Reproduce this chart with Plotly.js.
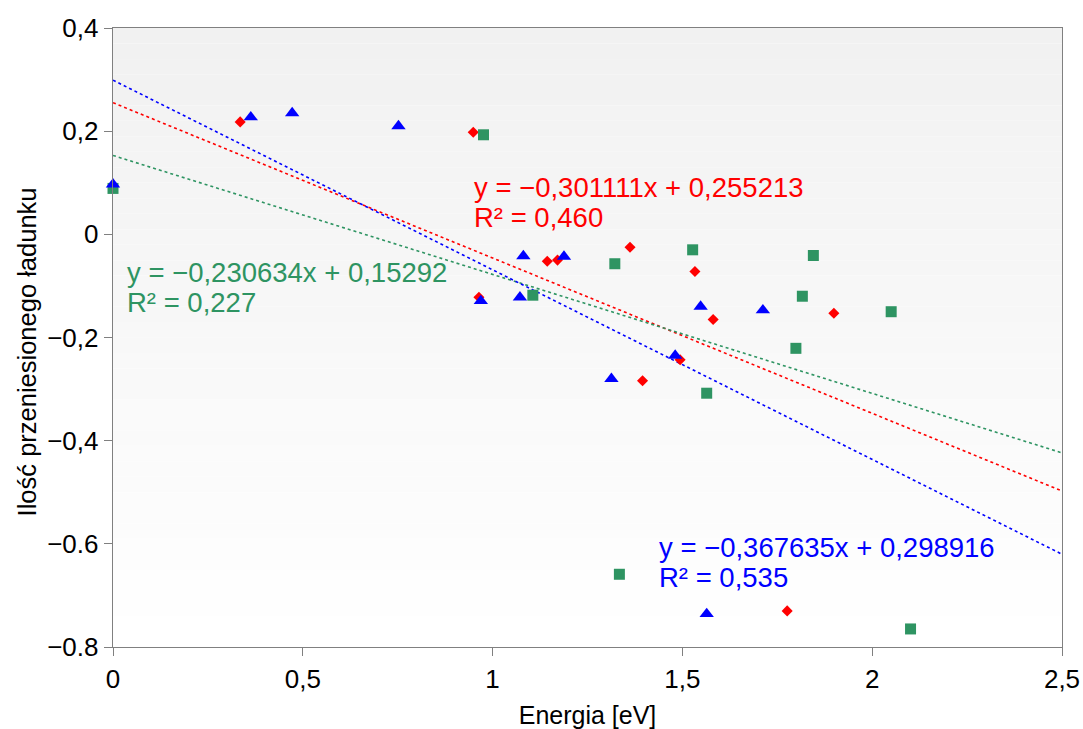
<!DOCTYPE html>
<html>
<head>
<meta charset="utf-8">
<script src="https://cdn.plot.ly/plotly-3.0.1.min.js"></script>
<style>html,body{margin:0;padding:0;background:#fff;}#chart{width:1083px;height:729px;}</style>
</head>
<body>
<div id="chart"></div>
<script>
// --- data ---
const redX   = [0.335, 0.949, 0.964, 1.144, 1.171, 1.362, 1.533, 1.395, 1.494, 1.581, 1.899, 1.776];
const redY   = [0.218, 0.198, -0.122, -0.052, -0.050, -0.025, -0.072, -0.284, -0.243, -0.165, -0.153, -0.730];
const greenX = [0, 0.976, 1.106, 1.322, 1.527, 1.564, 1.334, 1.799, 1.816, 1.845, 2.050, 2.101];
const greenY = [0.089, 0.193, -0.118, -0.057, -0.030, -0.308, -0.659, -0.221, -0.120, -0.041, -0.150, -0.765];
const blueX  = [0, 0.363, 0.472, 0.752, 0.969, 1.072, 1.081, 1.188, 1.313, 1.481, 1.548, 1.712, 1.564];
const blueY  = [0.097, 0.227, 0.235, 0.210, -0.129, -0.122, -0.042, -0.043, -0.280, -0.235, -0.140, -0.147, -0.736];

// trendline coefficients (from the equations shown on the chart)
const trendNames  = ['red', 'green', 'blue'];
const trendSlopes = [-0.301111, -0.230634, -0.367635];
const trendInters = [0.255213, 0.15292, 0.298916];
const trendLabels = [
  ['y = \u22120,301111x + 0,255213', 'R\u00b2 = 0,460'],
  ['y = \u22120,230634x + 0,15292', 'R\u00b2 = 0,227'],
  ['y = \u22120,367635x + 0,298916', 'R\u00b2 = 0,535']
];
const xRange = [0, 2.5];

// axis ticks
const xTickVals = [0, 0.5, 1, 1.5, 2, 2.5];
const xTickText = ['0', '0,5', '1', '1,5', '2', '2,5'];
const yTickVals = [0.4, 0.2, 0, -0.2, -0.4, -0.6, -0.8];
const yTickText = ['0,4', '0,2', '0', '\u22120,2', '\u22120,4', '\u22120.6', '\u22120.8'];

const xTitle = 'Energia [eV]';
const yTitle = 'Ilość przeniesionego ładunku';

// --- styling ---
const colors = {red: '#ff0000', green: '#2e9462', blue: '#0000ff'};
const FONT = '"Liberation Sans", Arial, sans-serif';

const traces = [];
trendNames.forEach((n, i) => {
  traces.push({
    x: xRange,
    y: xRange.map(x => trendSlopes[i] * x + trendInters[i]),
    mode: 'lines', type: 'scatter',
    line: {color: colors[n], width: 1.6, dash: 'dot'},
    hoverinfo: 'skip', showlegend: false
  });
});
traces.push({x: redX, y: redY, mode: 'markers', type: 'scatter', cliponaxis: false,
  marker: {symbol: 'diamond', size: 8.5, color: colors.red}, showlegend: false});
traces.push({x: greenX, y: greenY, mode: 'markers', type: 'scatter', cliponaxis: false,
  marker: {symbol: 'square', size: 11, color: colors.green}, showlegend: false});
traces.push({x: blueX, y: blueY, mode: 'markers', type: 'scatter', cliponaxis: false,
  marker: {symbol: 'triangle-up', size: 12.5, color: colors.blue}, showlegend: false});

// annotation positions (data coords)
const annPos = {
  red:   {x: 0.945, y: [0.0907, 0.0326]},
  green: {x: 0.031, y: [-0.0744, -0.1326]},
  blue:  {x: 1.432, y: [-0.6063, -0.6644]}
};
const annotations = [];
trendNames.forEach((n, i) => {
  trendLabels[i].forEach((t, j) => {
    annotations.push({
      x: annPos[n].x, y: annPos[n].y[j], xref: 'x', yref: 'y',
      text: t, showarrow: false, xanchor: 'left', yanchor: 'middle',
      font: {family: FONT, size: 27.5, color: colors[n]}
    });
  });
});
// y-axis title drawn as a rotated annotation (it sits a bit below the axis centre)
annotations.push({
  x: -0.091, y: 0.477, xref: 'paper', yref: 'paper', textangle: -90,
  text: yTitle, showarrow: false, xanchor: 'center', yanchor: 'middle',
  font: {family: FONT, size: 25.5, color: '#000'}
});

// background gradient bands
const shapes = [];
const NB = 40;
for (let k = 0; k < NB; k++) {
  const t = k / (NB - 1);
  const v = Math.round(0xf1 + (0xff - 0xf1) * t);
  shapes.push({type: 'rect', xref: 'paper', yref: 'paper', layer: 'below',
    x0: 0, x1: 1, y1: 1 - k / NB, y0: 1 - (k + 1) / NB,
    line: {width: 0}, fillcolor: `rgb(${v},${v},${v})`});
}

const axisCommon = {
  showgrid: false, zeroline: false, showline: true, mirror: true,
  linecolor: '#808080', linewidth: 1.3,
  ticks: 'outside', ticklen: 8, tickcolor: '#808080', tickwidth: 1,
  tickfont: {family: FONT, size: 26, color: '#000'}
};

const layout = {
  width: 1083, height: 729,
  margin: {l: 113, r: 21, t: 28, b: 82},
  paper_bgcolor: '#ffffff', plot_bgcolor: '#ffffff',
  showlegend: false,
  xaxis: Object.assign({}, axisCommon, {
    range: xRange, tickmode: 'array', tickvals: xTickVals, ticktext: xTickText,
    title: {text: xTitle, font: {family: FONT, size: 25, color: '#000'}, standoff: 14}
  }),
  yaxis: Object.assign({}, axisCommon, {
    range: [-0.8, 0.4], tickmode: 'array', tickvals: yTickVals, ticktext: yTickText
  }),
  annotations: annotations,
  shapes: shapes
};

Plotly.newPlot('chart', traces, layout, {displayModeBar: false, staticPlot: true});
</script>
</body>
</html>
